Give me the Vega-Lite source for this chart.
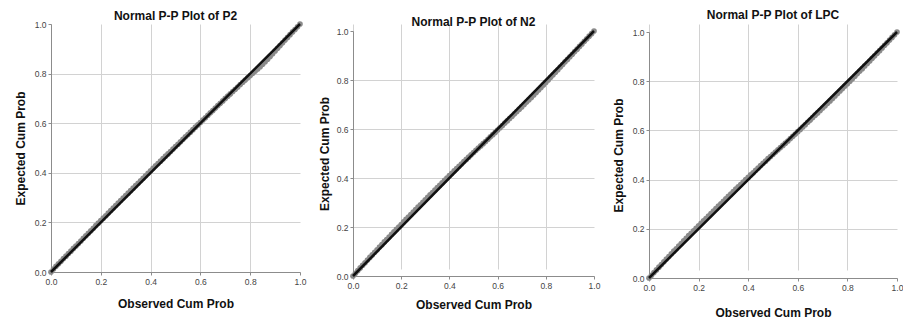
{
  "$schema": "https://vega.github.io/schema/vega-lite/v6.json",
  "background": "white",
  "padding": {"left": 14, "top": 9, "right": 0, "bottom": 0},
  "autosize": {"type": "pad"},
  "spacing": 12,
  "datasets": {
    "diag": [{"obs": 0, "exp": 0}, {"obs": 1, "exp": 1}],
    "p2": [
      {"obs":0.00,"exp":0.000},{"obs":0.01,"exp":0.012},{"obs":0.02,"exp":0.023},{"obs":0.03,"exp":0.033},{"obs":0.04,"exp":0.043},
      {"obs":0.05,"exp":0.054},{"obs":0.06,"exp":0.064},{"obs":0.07,"exp":0.074},{"obs":0.08,"exp":0.084},{"obs":0.09,"exp":0.095},
      {"obs":0.10,"exp":0.105},{"obs":0.11,"exp":0.115},{"obs":0.12,"exp":0.125},{"obs":0.13,"exp":0.136},{"obs":0.14,"exp":0.146},
      {"obs":0.15,"exp":0.156},{"obs":0.16,"exp":0.166},{"obs":0.17,"exp":0.176},{"obs":0.18,"exp":0.187},{"obs":0.19,"exp":0.197},
      {"obs":0.20,"exp":0.207},{"obs":0.21,"exp":0.217},{"obs":0.22,"exp":0.227},{"obs":0.23,"exp":0.238},{"obs":0.24,"exp":0.248},
      {"obs":0.25,"exp":0.258},{"obs":0.26,"exp":0.268},{"obs":0.27,"exp":0.278},{"obs":0.28,"exp":0.288},{"obs":0.29,"exp":0.298},
      {"obs":0.30,"exp":0.308},{"obs":0.31,"exp":0.318},{"obs":0.32,"exp":0.328},{"obs":0.33,"exp":0.338},{"obs":0.34,"exp":0.348},
      {"obs":0.35,"exp":0.358},{"obs":0.36,"exp":0.368},{"obs":0.37,"exp":0.378},{"obs":0.38,"exp":0.388},{"obs":0.39,"exp":0.398},
      {"obs":0.40,"exp":0.408},{"obs":0.41,"exp":0.418},{"obs":0.42,"exp":0.428},{"obs":0.43,"exp":0.437},{"obs":0.44,"exp":0.447},
      {"obs":0.45,"exp":0.457},{"obs":0.46,"exp":0.467},{"obs":0.47,"exp":0.476},{"obs":0.48,"exp":0.486},{"obs":0.49,"exp":0.496},
      {"obs":0.50,"exp":0.506},{"obs":0.51,"exp":0.515},{"obs":0.52,"exp":0.525},{"obs":0.53,"exp":0.535},{"obs":0.54,"exp":0.545},
      {"obs":0.55,"exp":0.554},{"obs":0.56,"exp":0.564},{"obs":0.57,"exp":0.574},{"obs":0.58,"exp":0.584},{"obs":0.59,"exp":0.593},
      {"obs":0.60,"exp":0.603},{"obs":0.61,"exp":0.613},{"obs":0.62,"exp":0.622},{"obs":0.63,"exp":0.632},{"obs":0.64,"exp":0.642},
      {"obs":0.65,"exp":0.651},{"obs":0.66,"exp":0.661},{"obs":0.67,"exp":0.671},{"obs":0.68,"exp":0.680},{"obs":0.69,"exp":0.690},
      {"obs":0.70,"exp":0.700},{"obs":0.71,"exp":0.709},{"obs":0.72,"exp":0.718},{"obs":0.73,"exp":0.728},{"obs":0.74,"exp":0.737},
      {"obs":0.75,"exp":0.746},{"obs":0.76,"exp":0.756},{"obs":0.77,"exp":0.765},{"obs":0.78,"exp":0.774},{"obs":0.79,"exp":0.783},
      {"obs":0.80,"exp":0.792},{"obs":0.81,"exp":0.801},{"obs":0.82,"exp":0.810},{"obs":0.83,"exp":0.819},{"obs":0.84,"exp":0.828},
      {"obs":0.85,"exp":0.838},{"obs":0.86,"exp":0.848},{"obs":0.87,"exp":0.858},{"obs":0.88,"exp":0.869},{"obs":0.89,"exp":0.880},
      {"obs":0.90,"exp":0.891},{"obs":0.91,"exp":0.902},{"obs":0.92,"exp":0.913},{"obs":0.93,"exp":0.924},{"obs":0.94,"exp":0.935},
      {"obs":0.95,"exp":0.946},{"obs":0.96,"exp":0.957},{"obs":0.97,"exp":0.968},{"obs":0.98,"exp":0.978},{"obs":0.99,"exp":0.989},
      {"obs":1.00,"exp":1.000}
    ],
    "n2": [
      {"obs":0.00,"exp":0.000},{"obs":0.01,"exp":0.011},{"obs":0.02,"exp":0.022},{"obs":0.03,"exp":0.033},{"obs":0.04,"exp":0.044},
      {"obs":0.05,"exp":0.054},{"obs":0.06,"exp":0.065},{"obs":0.07,"exp":0.076},{"obs":0.08,"exp":0.086},{"obs":0.09,"exp":0.097},
      {"obs":0.10,"exp":0.107},{"obs":0.11,"exp":0.118},{"obs":0.12,"exp":0.128},{"obs":0.13,"exp":0.139},{"obs":0.14,"exp":0.149},
      {"obs":0.15,"exp":0.159},{"obs":0.16,"exp":0.170},{"obs":0.17,"exp":0.180},{"obs":0.18,"exp":0.190},{"obs":0.19,"exp":0.200},
      {"obs":0.20,"exp":0.210},{"obs":0.21,"exp":0.221},{"obs":0.22,"exp":0.231},{"obs":0.23,"exp":0.241},{"obs":0.24,"exp":0.251},
      {"obs":0.25,"exp":0.261},{"obs":0.26,"exp":0.271},{"obs":0.27,"exp":0.281},{"obs":0.28,"exp":0.291},{"obs":0.29,"exp":0.301},
      {"obs":0.30,"exp":0.311},{"obs":0.31,"exp":0.321},{"obs":0.32,"exp":0.331},{"obs":0.33,"exp":0.341},{"obs":0.34,"exp":0.351},
      {"obs":0.35,"exp":0.361},{"obs":0.36,"exp":0.370},{"obs":0.37,"exp":0.380},{"obs":0.38,"exp":0.390},{"obs":0.39,"exp":0.400},
      {"obs":0.40,"exp":0.410},{"obs":0.41,"exp":0.419},{"obs":0.42,"exp":0.429},{"obs":0.43,"exp":0.438},{"obs":0.44,"exp":0.448},
      {"obs":0.45,"exp":0.457},{"obs":0.46,"exp":0.467},{"obs":0.47,"exp":0.476},{"obs":0.48,"exp":0.485},{"obs":0.49,"exp":0.495},
      {"obs":0.50,"exp":0.504},{"obs":0.51,"exp":0.513},{"obs":0.52,"exp":0.522},{"obs":0.53,"exp":0.531},{"obs":0.54,"exp":0.540},
      {"obs":0.55,"exp":0.549},{"obs":0.56,"exp":0.558},{"obs":0.57,"exp":0.568},{"obs":0.58,"exp":0.577},{"obs":0.59,"exp":0.586},
      {"obs":0.60,"exp":0.596},{"obs":0.61,"exp":0.605},{"obs":0.62,"exp":0.614},{"obs":0.63,"exp":0.624},{"obs":0.64,"exp":0.633},
      {"obs":0.65,"exp":0.643},{"obs":0.66,"exp":0.652},{"obs":0.67,"exp":0.662},{"obs":0.68,"exp":0.671},{"obs":0.69,"exp":0.681},
      {"obs":0.70,"exp":0.690},{"obs":0.71,"exp":0.700},{"obs":0.72,"exp":0.710},{"obs":0.73,"exp":0.719},{"obs":0.74,"exp":0.729},
      {"obs":0.75,"exp":0.739},{"obs":0.76,"exp":0.749},{"obs":0.77,"exp":0.759},{"obs":0.78,"exp":0.769},{"obs":0.79,"exp":0.780},
      {"obs":0.80,"exp":0.790},{"obs":0.81,"exp":0.800},{"obs":0.82,"exp":0.811},{"obs":0.83,"exp":0.821},{"obs":0.84,"exp":0.832},
      {"obs":0.85,"exp":0.842},{"obs":0.86,"exp":0.853},{"obs":0.87,"exp":0.863},{"obs":0.88,"exp":0.874},{"obs":0.89,"exp":0.884},
      {"obs":0.90,"exp":0.895},{"obs":0.91,"exp":0.905},{"obs":0.92,"exp":0.916},{"obs":0.93,"exp":0.926},{"obs":0.94,"exp":0.937},
      {"obs":0.95,"exp":0.947},{"obs":0.96,"exp":0.958},{"obs":0.97,"exp":0.968},{"obs":0.98,"exp":0.979},{"obs":0.99,"exp":0.989},
      {"obs":1.00,"exp":1.000}
    ],
    "lpc": [
      {"obs":0.00,"exp":0.000},{"obs":0.01,"exp":0.011},{"obs":0.02,"exp":0.022},{"obs":0.03,"exp":0.033},{"obs":0.04,"exp":0.044},
      {"obs":0.05,"exp":0.055},{"obs":0.06,"exp":0.066},{"obs":0.07,"exp":0.077},{"obs":0.08,"exp":0.087},{"obs":0.09,"exp":0.098},
      {"obs":0.10,"exp":0.109},{"obs":0.11,"exp":0.119},{"obs":0.12,"exp":0.130},{"obs":0.13,"exp":0.140},{"obs":0.14,"exp":0.151},
      {"obs":0.15,"exp":0.161},{"obs":0.16,"exp":0.172},{"obs":0.17,"exp":0.182},{"obs":0.18,"exp":0.192},{"obs":0.19,"exp":0.202},
      {"obs":0.20,"exp":0.212},{"obs":0.21,"exp":0.222},{"obs":0.22,"exp":0.232},{"obs":0.23,"exp":0.242},{"obs":0.24,"exp":0.252},
      {"obs":0.25,"exp":0.262},{"obs":0.26,"exp":0.272},{"obs":0.27,"exp":0.282},{"obs":0.28,"exp":0.292},{"obs":0.29,"exp":0.302},
      {"obs":0.30,"exp":0.312},{"obs":0.31,"exp":0.322},{"obs":0.32,"exp":0.332},{"obs":0.33,"exp":0.341},{"obs":0.34,"exp":0.351},
      {"obs":0.35,"exp":0.361},{"obs":0.36,"exp":0.371},{"obs":0.37,"exp":0.380},{"obs":0.38,"exp":0.390},{"obs":0.39,"exp":0.400},
      {"obs":0.40,"exp":0.409},{"obs":0.41,"exp":0.419},{"obs":0.42,"exp":0.428},{"obs":0.43,"exp":0.438},{"obs":0.44,"exp":0.447},
      {"obs":0.45,"exp":0.457},{"obs":0.46,"exp":0.466},{"obs":0.47,"exp":0.475},{"obs":0.48,"exp":0.485},{"obs":0.49,"exp":0.494},
      {"obs":0.50,"exp":0.503},{"obs":0.51,"exp":0.512},{"obs":0.52,"exp":0.521},{"obs":0.53,"exp":0.530},{"obs":0.54,"exp":0.539},
      {"obs":0.55,"exp":0.548},{"obs":0.56,"exp":0.557},{"obs":0.57,"exp":0.567},{"obs":0.58,"exp":0.576},{"obs":0.59,"exp":0.585},
      {"obs":0.60,"exp":0.595},{"obs":0.61,"exp":0.604},{"obs":0.62,"exp":0.614},{"obs":0.63,"exp":0.623},{"obs":0.64,"exp":0.633},
      {"obs":0.65,"exp":0.642},{"obs":0.66,"exp":0.652},{"obs":0.67,"exp":0.662},{"obs":0.68,"exp":0.671},{"obs":0.69,"exp":0.681},
      {"obs":0.70,"exp":0.691},{"obs":0.71,"exp":0.700},{"obs":0.72,"exp":0.710},{"obs":0.73,"exp":0.720},{"obs":0.74,"exp":0.730},
      {"obs":0.75,"exp":0.740},{"obs":0.76,"exp":0.750},{"obs":0.77,"exp":0.760},{"obs":0.78,"exp":0.770},{"obs":0.79,"exp":0.780},
      {"obs":0.80,"exp":0.790},{"obs":0.81,"exp":0.800},{"obs":0.82,"exp":0.810},{"obs":0.83,"exp":0.820},{"obs":0.84,"exp":0.831},
      {"obs":0.85,"exp":0.841},{"obs":0.86,"exp":0.851},{"obs":0.87,"exp":0.862},{"obs":0.88,"exp":0.872},{"obs":0.89,"exp":0.882},
      {"obs":0.90,"exp":0.893},{"obs":0.91,"exp":0.903},{"obs":0.92,"exp":0.914},{"obs":0.93,"exp":0.924},{"obs":0.94,"exp":0.935},
      {"obs":0.95,"exp":0.946},{"obs":0.96,"exp":0.956},{"obs":0.97,"exp":0.967},{"obs":0.98,"exp":0.978},{"obs":0.99,"exp":0.989},
      {"obs":1.00,"exp":1.000}
    ]
  },
  "config": {
    "view": {"stroke": null},
    "font": "Liberation Sans",
    "axis": {
      "gridColor": "#d2d2d2",
      "gridWidth": 1,
      "domainColor": "#8c8c8c",
      "tickColor": "#8c8c8c",
      "tickSize": 3,
      "labelFont": "Liberation Sans",
      "labelFontSize": 8.5,
      "labelColor": "#444444",
      "labelPadding": 2,
      "labelFlush": false,
      "labelOverlap": false,
      "titleFont": "Liberation Sans",
      "titleFontSize": 12,
      "titleFontWeight": "bold",
      "titleColor": "#111111"
    },
    "title": {"font": "Liberation Sans", "fontSize": 12, "fontWeight": "bold", "color": "#111111", "anchor": "middle"}
  },
  "hconcat": [
    {
      "width": 249,
      "height": 248,
      "title": {"text": "Normal P-P Plot of P2", "offset": -4},
      "layer": [
        {
          "data": {"name": "p2"},
          "mark": {"type": "point", "filled": true, "size": 32, "color": "#8a8a8a", "opacity": 1},
          "encoding": {
            "x": {"field": "obs", "type": "quantitative", "scale": {"domain": [0, 1], "nice": false},
                  "axis": {"values": [0, 0.2, 0.4, 0.6, 0.8, 1], "format": ".1f", "titlePadding": 13,
                           "gridOpacity": {"condition": {"test": "datum.value >= 1", "value": 0}, "value": 1}},
                  "title": "Observed Cum Prob"},
            "y": {"field": "exp", "type": "quantitative", "scale": {"domain": [0, 1], "nice": false},
                  "axis": {"values": [0, 0.2, 0.4, 0.6, 0.8, 1], "format": ".1f", "titlePadding": 7,
                           "gridOpacity": {"condition": {"test": "datum.value >= 1", "value": 0}, "value": 1}},
                  "title": "Expected Cum Prob"}
          }
        },
        {
          "data": {"name": "diag"},
          "mark": {"type": "line", "color": "#111111", "strokeWidth": 2.5},
          "encoding": {
            "x": {"field": "obs", "type": "quantitative"},
            "y": {"field": "exp", "type": "quantitative"}
          }
        }
      ]
    },
    {
      "width": 241,
      "height": 252,
      "title": {"text": "Normal P-P Plot of N2", "offset": -5},
      "layer": [
        {
          "data": {"name": "n2"},
          "mark": {"type": "point", "filled": true, "size": 32, "color": "#8a8a8a", "opacity": 1},
          "encoding": {
            "x": {"field": "obs", "type": "quantitative", "scale": {"domain": [0, 1], "nice": false},
                  "axis": {"values": [0, 0.2, 0.4, 0.6, 0.8, 1], "format": ".1f", "titlePadding": 10,
                           "gridOpacity": {"condition": {"test": "datum.value >= 1", "value": 0}, "value": 1}},
                  "title": "Observed Cum Prob"},
            "y": {"field": "exp", "type": "quantitative", "scale": {"domain": [0, 1], "nice": false, "range": [252, 7]},
                  "axis": {"values": [0, 0.2, 0.4, 0.6, 0.8, 1], "format": ".1f", "titlePadding": 5,
                           "gridOpacity": {"condition": {"test": "datum.value >= 1", "value": 0}, "value": 1}},
                  "title": "Expected Cum Prob"}
          }
        },
        {
          "data": {"name": "diag"},
          "mark": {"type": "line", "color": "#111111", "strokeWidth": 2.5},
          "encoding": {
            "x": {"field": "obs", "type": "quantitative"},
            "y": {"field": "exp", "type": "quantitative"}
          }
        }
      ]
    },
    {
      "width": 248,
      "height": 254,
      "title": {"text": "Normal P-P Plot of LPC", "offset": 2},
      "layer": [
        {
          "data": {"name": "lpc"},
          "mark": {"type": "point", "filled": true, "size": 32, "color": "#8a8a8a", "opacity": 1},
          "encoding": {
            "x": {"field": "obs", "type": "quantitative", "scale": {"domain": [0, 1], "nice": false},
                  "axis": {"values": [0, 0.2, 0.4, 0.6, 0.8, 1], "format": ".1f", "titlePadding": 16,
                           "gridOpacity": {"condition": {"test": "datum.value >= 1", "value": 0}, "value": 1}},
                  "title": "Observed Cum Prob"},
            "y": {"field": "exp", "type": "quantitative", "scale": {"domain": [0, 1], "nice": false, "range": [254, 8]},
                  "axis": {"values": [0, 0.2, 0.4, 0.6, 0.8, 1], "format": ".1f", "titlePadding": 7,
                           "gridOpacity": {"condition": {"test": "datum.value >= 1", "value": 0}, "value": 1}},
                  "title": "Expected Cum Prob"}
          }
        },
        {
          "data": {"name": "diag"},
          "mark": {"type": "line", "color": "#111111", "strokeWidth": 2.5},
          "encoding": {
            "x": {"field": "obs", "type": "quantitative"},
            "y": {"field": "exp", "type": "quantitative"}
          }
        }
      ]
    }
  ]
}
